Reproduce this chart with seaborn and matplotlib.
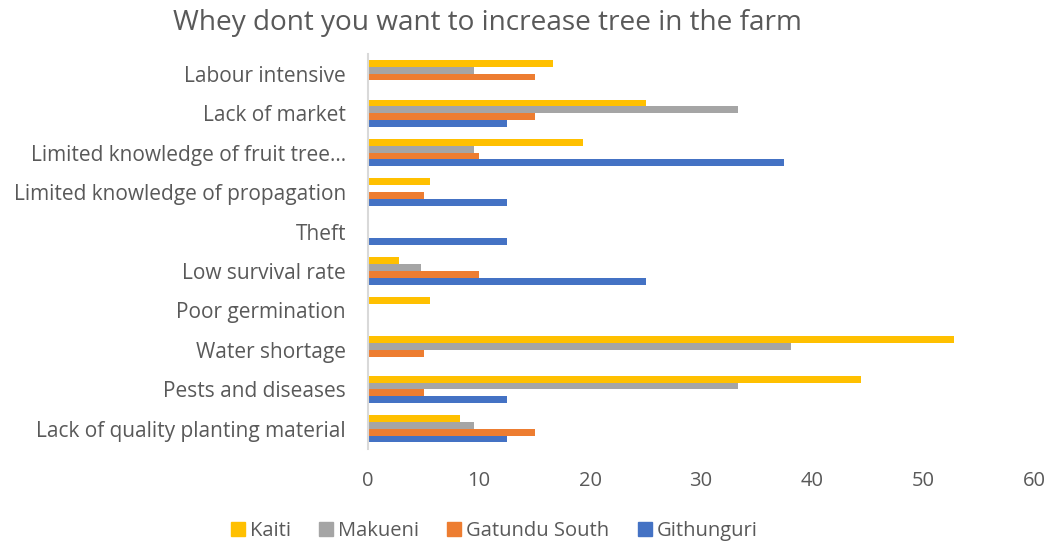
import matplotlib
matplotlib.use("Agg")
import matplotlib.pyplot as plt
from matplotlib.lines import Line2D
import pandas as pd
import seaborn as sns

# Reasons, listed top to bottom
reasons = [
    "Labour intensive",
    "Lack of market",
    "Limited knowledge of fruit tree…",
    "Limited knowledge of propagation",
    "Theft",
    "Low survival rate",
    "Poor germination",
    "Water shortage",
    "Pests and diseases",
    "Lack of quality planting material",
]

sites = ["Kaiti", "Makueni", "Gatundu South", "Githunguri"]

kaiti = [16.7, 25.0, 19.4, 5.6, 0, 2.8, 5.6, 52.8, 44.4, 8.3]
makueni = [9.5, 33.3, 9.5, 0, 0, 4.8, 0, 38.1, 33.3, 9.5]
gatundu_south = [15.0, 15.0, 10.0, 5.0, 0, 10.0, 0, 5.0, 5.0, 15.0]
githunguri = [0, 12.5, 37.5, 12.5, 12.5, 25.0, 0, 0, 12.5, 12.5]

colors = ["#FFC000", "#A5A5A5", "#ED7D31", "#4472C4"]
x_ticks = [0, 10, 20, 30, 40, 50, 60]

series = [kaiti, makueni, gatundu_south, githunguri]
df = pd.DataFrame(
    [(r, s, v) for s, vals in zip(sites, series) for r, v in zip(reasons, vals)],
    columns=["reason", "site", "percent"],
)

sns.set_theme(style="white")
plt.rcParams["font.family"] = ["Open Sans", "DejaVu Sans"]
text_color = "#595959"

fig = plt.figure(figsize=(10.55, 5.45), dpi=100)
ax = fig.add_axes([0.349, 0.177, 0.631, 0.724])

sns.barplot(
    data=df, x="percent", y="reason", hue="site",
    order=reasons, hue_order=sites, palette=colors, saturation=1,
    orient="h", width=0.69, linewidth=0, errorbar=None,
    legend=False, ax=ax,
)

ax.set_xlim(0, 60)
ax.set_xticks(x_ticks)
ax.set_xticklabels([str(t) for t in x_ticks])
ax.set_xlabel("")
ax.set_ylabel("")
ax.tick_params(axis="x", length=0, pad=16, labelsize=14.5, labelcolor=text_color)
ax.tick_params(axis="y", length=0, pad=16, labelsize=15, labelcolor=text_color)

for side in ["top", "right", "bottom"]:
    ax.spines[side].set_visible(False)
ax.spines["left"].set_color("#D9D9D9")
ax.spines["left"].set_linewidth(1.5)

fig.text(0.462, 0.958, "Whey dont you want to increase tree in the farm",
         ha="center", va="center", fontsize=20.2, color=text_color)

handles = [
    Line2D([0], [0], marker="s", linestyle="none", markersize=10,
           markerfacecolor=c, markeredgecolor=c, label=s)
    for s, c in zip(sites, colors)
]
fig.legend(handles=handles, loc="center", bbox_to_anchor=(0.467, 0.026),
           ncol=4, frameon=False, fontsize=14.5, handlelength=1.0,
           handletextpad=0.1, columnspacing=1.25, labelcolor=text_color)

fig.savefig("out.png", dpi=100)
